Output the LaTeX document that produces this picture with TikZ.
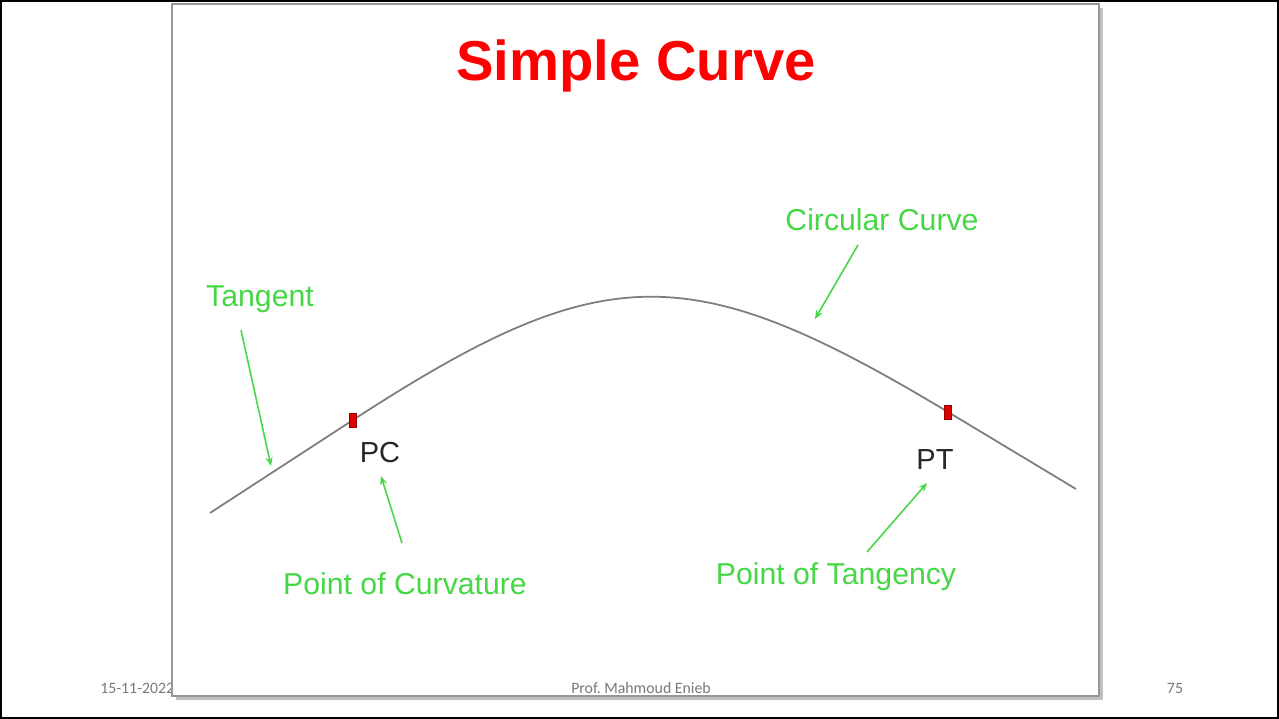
\documentclass[tikz,border=0pt]{standalone}
\usepackage{fontspec}
\setmainfont{Liberation Sans}
\newfontfamily\footfont{Carlito}
\usetikzlibrary{arrows.meta}
\frenchspacing
\definecolor{lblgreen}{RGB}{70,215,70}
\definecolor{curvegray}{RGB}{125,125,125}
\definecolor{boxgray}{RGB}{150,150,150}
\definecolor{footgray}{RGB}{120,120,120}
\definecolor{mkred}{RGB}{220,0,0}
\tikzset{
  lbl/.style={text=lblgreen, font=\fontsize{17.2}{20}\selectfont, inner sep=0pt},
  ptlbl/.style={text=black!85, font=\fontsize{16.5}{20}\selectfont, inner sep=0pt},
  pointer/.style={draw=lblgreen, line width=0.9pt, -{Stealth[length=5pt,width=4pt]}},
  marker/.style={draw=red!60!black, line width=0.3pt, fill=mkred, minimum width=4pt, minimum height=8pt, inner sep=0pt},
  foot/.style={text=footgray, font=\footfont\fontsize{9}{11}\selectfont, inner sep=0pt},
  road/.style={draw=curvegray, line width=1pt}
}
\begin{document}
\begin{tikzpicture}[x=0.02cm,y=-0.02cm]
\useasboundingbox (0,0) rectangle (1279,719);
\fill[white] (0,0) rectangle (1279,719);
% date (partly hidden by the box)
\node[foot, anchor=west] (date) at (100,688) {15-11-2022};
% inner slide box with shadow
\fill[boxgray!60] (176,8) rectangle (1103,700);
\filldraw[fill=white, draw=boxgray, line width=1.2pt] (172,4) rectangle (1099,696);
% outer frame
\draw[black, line width=1.6pt] (1,1) rectangle (1278,718);
% title
\node[text=red, font=\bfseries\fontsize{32}{38}\selectfont, inner sep=0pt] (title) at (636,66) {Simple Curve};
% road geometry
\coordinate (start) at (210,513);
\coordinate (pc) at (353,420);
\coordinate (pt) at (948,412);
\coordinate (end) at (1076,489);
\draw[road] (start) -- (pc) .. controls (604,257) and (690,257) .. (pt) -- (end);
\node[marker] (mpc) at (pc) {};
\node[marker] (mpt) at (pt) {};
% point labels
\node[ptlbl] (PC) at (380,453) {PC};
\node[ptlbl] (PT) at (935,460) {PT};
% green labels
\node[lbl] (tangent) at (260,299) {Tangent};
\node[lbl] (circ) at (882,220) {Circular Curve};
\node[lbl] (poc) at (405,584) {Point of Curvature};
\node[lbl] (pot) at (836,577) {Point of Tangency};
% pointer targets
\coordinate (tgtT) at (271,466);
\coordinate (tgtC) at (815,319);
\coordinate (tgtPC) at (381,476);
\coordinate (tgtPT) at (927,483);
\coordinate (srcT) at (241,330);
\coordinate (srcC) at (858,245);
\coordinate (srcPC) at (402,543);
\coordinate (srcPT) at (867,552);
\draw[pointer] (srcT) -- (tgtT);
\draw[pointer] (srcC) -- (tgtC);
\draw[pointer] (srcPC) -- (tgtPC);
\draw[pointer] (srcPT) -- (tgtPT);
% footer
\node[foot] (author) at (641,688) {Prof. Mahmoud Enieb};
\node[foot] (page) at (1175,688) {75};
\end{tikzpicture}
\end{document}
